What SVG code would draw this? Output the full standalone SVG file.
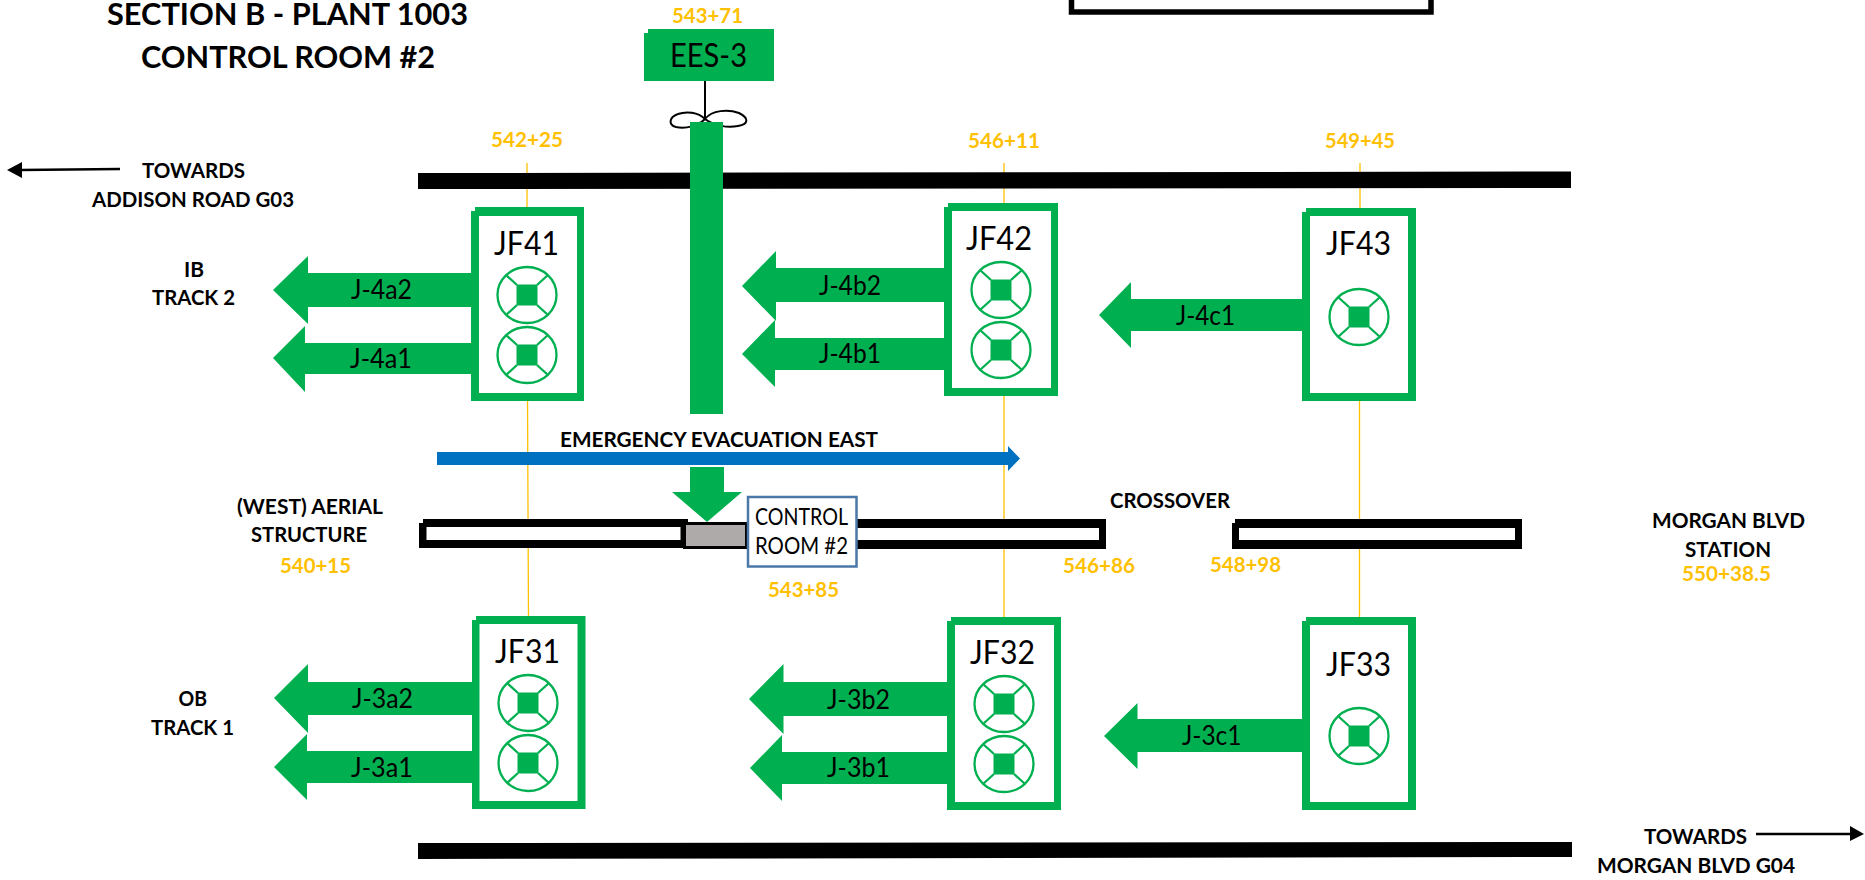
<svg xmlns="http://www.w3.org/2000/svg" xmlns:xlink="http://www.w3.org/1999/xlink" width="1865" height="880" viewBox="0 0 1865 880">
<style>
text{font-family:Lato,"Liberation Sans",sans-serif;fill:#000}
.t{font-weight:700;font-size:30px}
.l{font-weight:700;font-size:21px}
.y{font-weight:700;font-size:21px;fill:#FFC000}
.n{font-size:32px}
.a{font-size:27px}
.c{font-size:22.500px}
.g{fill:#00B050}
.k{fill:#000}
.w{fill:#fff}
.yl{stroke:#FFC000;stroke-width:1.3;fill:none}
.ln{stroke:#000;stroke-width:2.6;fill:none}
.fl{stroke:#00B050;stroke-width:2.300;fill:#fff}
.fs{stroke:#00B050;stroke-width:2.300;fill:none}
</style>
<defs>
<g id="fan">
<ellipse class="fl" cx="0" cy="0" rx="29.500" ry="28"/>
<path class="fs" d="M-10,-10L-21,-20M10,-10L21,-20M-10,10L-21,20M10,10L21,20"/>
<rect class="g" x="-10.500" y="-10.500" width="21" height="21"/>
</g>
</defs>
<rect width="1865" height="880" fill="#fff"/>

<g id="yellow-lines">
<path class="yl" d="M527,163V210M527.500,396L528.500,620"/>
<path class="yl" d="M1004,163V205M1004,392V620"/>
<path class="yl" d="M1360,163V210M1359.500,398V620"/>
</g>

<g id="tracks">
<polygon class="k" points="418,173 1571,171.500 1571,188 418,189"/>
<polygon class="k" points="418,843 1572,842 1572,857 418,859"/>
<path d="M1071.500,-6V12H1431V-6" fill="#fff" stroke="#000" stroke-width="5.500"/>
</g>

<g id="platforms">
<path class="k" d="M423,519H688V548H419V523H423Z"/>
<rect class="w" x="426.500" y="527" width="254" height="13"/>
<rect x="684.500" y="523.500" width="62" height="24" fill="#AEAAAA" stroke="#000" stroke-width="3"/>
<rect class="k" x="857" y="519" width="249" height="30"/>
<rect class="w" x="857" y="528" width="242" height="12"/>
<path class="k" d="M1235,519H1522V549H1232V523H1235Z"/>
<rect class="w" x="1239" y="528" width="276" height="12"/>
</g>

<g id="connectors">
<path d="M705,81V120" stroke="#000" stroke-width="2" fill="none"/>
<path d="M705,119C698,112 686,111 678,114C669,117 668,125 676,127C686,129 698,126 705,119C712,110 728,109 739,113C749,118 749,124 738,126C728,128 714,126 705,119Z" fill="none" stroke="#000" stroke-width="2"/>
<rect class="g" x="690" y="122" width="33" height="292"/>
<polygon class="g" points="273,290 308,256 308,273 471,273 471,307 308,307 308,324"/>
<polygon class="g" points="273,358 305,326 305,343 471,343 471,374 305,374 305,392"/>
<polygon class="g" points="742,286 776,251 776,268 944,268 944,302 776,302 776,321"/>
<polygon class="g" points="742,354 775,320 775,338 944,338 944,370 775,370 775,387"/>
<polygon class="g" points="1099,315 1131,282 1131,299 1302,299 1302,331 1131,331 1131,348"/>
<polygon class="g" points="274,698 308,664 308,682 472,682 472,715 308,715 308,733"/>
<polygon class="g" points="274,767 307,734 307,751 472,751 472,783 307,783 307,800"/>
<polygon class="g" points="749,699 783.500,664 783.500,682 947,682 947,716 783.500,716 783.500,734"/>
<polygon class="g" points="750,768 782,735 782,752 947,752 947,784 782,784 782,801"/>
<polygon class="g" points="1104,736 1137.500,703 1137.500,719 1302,719 1302,752 1137.500,752 1137.500,769"/>
<polygon points="437,452 1008,452 1008,446 1020,458.500 1008,471 1008,465 437,465" fill="#0070C0"/>
<polygon class="g" points="690,467 724,467 724,492 742,492 707,522 672,492 690,492"/>
<path class="ln" d="M120,169L20,170"/>
<polygon class="k" points="7,170 22,162 22,178"/>
<path class="ln" d="M1756,834H1852"/>
<polygon class="k" points="1864,834 1850,826 1850,841"/>
</g>

<g id="EES-3">
<path class="g" d="M648,29H774V81H644V33H648Z"/>
<text class="n" x="670" y="67" textLength="77" lengthAdjust="spacingAndGlyphs">EES-3</text>
</g>
<g id="control-room">
<rect x="748" y="497" width="108.500" height="69.500" fill="#fff" stroke="#4A78A8" stroke-width="2.500"/>
<text class="c" x="755" y="525" textLength="93" lengthAdjust="spacingAndGlyphs">CONTROL</text>
<text class="c" x="755" y="554" textLength="93" lengthAdjust="spacingAndGlyphs">ROOM #2</text>
</g>

<g id="JF41">
<path class="g" d="M475,207H584V401H471V211H475Z"/>
<rect class="w" x="479" y="216" width="98" height="177"/>
<text class="n" x="494" y="255" textLength="65" lengthAdjust="spacingAndGlyphs">JF41</text>
<use xlink:href="#fan" href="#fan" x="527" y="295"/>
<use xlink:href="#fan" href="#fan" x="527" y="355"/>
</g>
<g id="JF42">
<path class="g" d="M948,203H1058V396H944V207H948Z"/>
<rect class="w" x="952" y="211" width="99" height="177"/>
<text class="n" x="966" y="250" textLength="66" lengthAdjust="spacingAndGlyphs">JF42</text>
<use xlink:href="#fan" href="#fan" x="1001" y="290"/>
<use xlink:href="#fan" href="#fan" x="1001" y="350"/>
</g>
<g id="JF43">
<path class="g" d="M1306,208H1416V401H1302V212H1306Z"/>
<rect class="w" x="1310" y="216" width="98" height="177"/>
<text class="n" x="1326" y="255" textLength="65" lengthAdjust="spacingAndGlyphs">JF43</text>
<use xlink:href="#fan" href="#fan" x="1359" y="317"/>
</g>
<g id="JF31">
<path class="g" d="M476,616H585.500V809H472V620H476Z"/>
<rect class="w" x="479.500" y="624" width="98" height="177"/>
<text class="n" x="495" y="663" textLength="65" lengthAdjust="spacingAndGlyphs">JF31</text>
<use xlink:href="#fan" href="#fan" x="528" y="703"/>
<use xlink:href="#fan" href="#fan" x="528" y="763"/>
</g>
<g id="JF32">
<path class="g" d="M951,617H1061V810H947V621H951Z"/>
<rect class="w" x="955" y="625" width="99" height="177"/>
<text class="n" x="970" y="664" textLength="65" lengthAdjust="spacingAndGlyphs">JF32</text>
<use xlink:href="#fan" href="#fan" x="1004" y="704"/>
<use xlink:href="#fan" href="#fan" x="1004" y="764"/>
</g>
<g id="JF33">
<path class="g" d="M1306,617H1416V810H1302V621H1306Z"/>
<rect class="w" x="1310" y="625" width="98" height="177"/>
<text class="n" x="1326" y="676" textLength="65" lengthAdjust="spacingAndGlyphs">JF33</text>
<use xlink:href="#fan" href="#fan" x="1359" y="736"/>
</g>

<g id="arrow-labels">
<text class="a" x="351" y="299" textLength="61" lengthAdjust="spacingAndGlyphs">J-4a2</text>
<text class="a" x="350" y="368" textLength="62" lengthAdjust="spacingAndGlyphs">J-4a1</text>
<text class="a" x="819" y="295" textLength="62" lengthAdjust="spacingAndGlyphs">J-4b2</text>
<text class="a" x="819" y="363" textLength="62" lengthAdjust="spacingAndGlyphs">J-4b1</text>
<text class="a" x="1176" y="325" textLength="59" lengthAdjust="spacingAndGlyphs">J-4c1</text>
<text class="a" x="352" y="708" textLength="61" lengthAdjust="spacingAndGlyphs">J-3a2</text>
<text class="a" x="351" y="777" textLength="62" lengthAdjust="spacingAndGlyphs">J-3a1</text>
<text class="a" x="827" y="709" textLength="63" lengthAdjust="spacingAndGlyphs">J-3b2</text>
<text class="a" x="827" y="777" textLength="63" lengthAdjust="spacingAndGlyphs">J-3b1</text>
<text class="a" x="1182" y="745" textLength="59.500" lengthAdjust="spacingAndGlyphs">J-3c1</text>
</g>

<g id="labels">
<text class="t" x="107" y="25" textLength="361" lengthAdjust="spacingAndGlyphs">SECTION B - PLANT 1003</text>
<text class="t" x="141" y="68" textLength="294" lengthAdjust="spacingAndGlyphs">CONTROL ROOM #2</text>
<text class="l" x="142" y="178" textLength="103" lengthAdjust="spacingAndGlyphs">TOWARDS</text>
<text class="l" x="92" y="207" textLength="202" lengthAdjust="spacingAndGlyphs">ADDISON ROAD G03</text>
<text class="l" x="184" y="277" textLength="20" lengthAdjust="spacingAndGlyphs">IB</text>
<text class="l" x="152" y="305" textLength="83" lengthAdjust="spacingAndGlyphs">TRACK 2</text>
<text class="l" x="178.500" y="706" textLength="28.500" lengthAdjust="spacingAndGlyphs">OB</text>
<text class="l" x="151" y="735" textLength="83" lengthAdjust="spacingAndGlyphs">TRACK 1</text>
<text class="l" x="560" y="447" textLength="318" lengthAdjust="spacingAndGlyphs">EMERGENCY EVACUATION EAST</text>
<text class="l" x="237" y="514" textLength="146" lengthAdjust="spacingAndGlyphs">(WEST) AERIAL</text>
<text class="l" x="251" y="542" textLength="116" lengthAdjust="spacingAndGlyphs">STRUCTURE</text>
<text class="l" x="1110" y="508" textLength="120" lengthAdjust="spacingAndGlyphs">CROSSOVER</text>
<text class="l" x="1652" y="528" textLength="153" lengthAdjust="spacingAndGlyphs">MORGAN BLVD</text>
<text class="l" x="1685" y="557" textLength="86" lengthAdjust="spacingAndGlyphs">STATION</text>
<text class="l" x="1644" y="844" textLength="103" lengthAdjust="spacingAndGlyphs">TOWARDS</text>
<text class="l" x="1597" y="873" textLength="198" lengthAdjust="spacingAndGlyphs">MORGAN BLVD G04</text>
<text class="y" x="672" y="23" textLength="71" lengthAdjust="spacingAndGlyphs">543+71</text>
<text class="y" x="491" y="147" textLength="72" lengthAdjust="spacingAndGlyphs">542+25</text>
<text class="y" x="968" y="148" textLength="72" lengthAdjust="spacingAndGlyphs">546+11</text>
<text class="y" x="1325" y="148" textLength="70" lengthAdjust="spacingAndGlyphs">549+45</text>
<text class="y" x="280" y="573" textLength="71" lengthAdjust="spacingAndGlyphs">540+15</text>
<text class="y" x="768" y="597" textLength="71" lengthAdjust="spacingAndGlyphs">543+85</text>
<text class="y" x="1063" y="573" textLength="72" lengthAdjust="spacingAndGlyphs">546+86</text>
<text class="y" x="1210" y="572" textLength="71" lengthAdjust="spacingAndGlyphs">548+98</text>
<text class="y" x="1682" y="581" textLength="89" lengthAdjust="spacingAndGlyphs">550+38.5</text>
</g>
</svg>
